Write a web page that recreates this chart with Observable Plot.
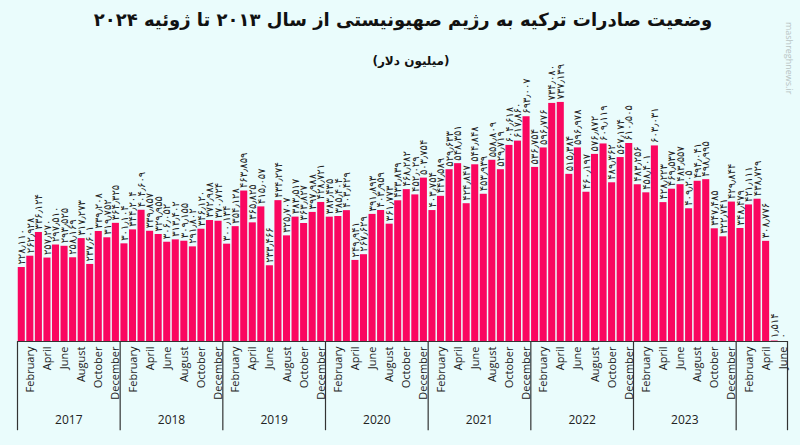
<!DOCTYPE html>
<html><head><meta charset="utf-8">
<script src="https://cdn.jsdelivr.net/npm/d3@7"></script>
<script src="https://cdn.jsdelivr.net/npm/@observablehq/plot@0.6"></script>
<style>
html,body{margin:0;padding:0;}
body{background:#eafcfc;width:800px;height:445px;overflow:hidden;position:relative;font-family:"DejaVu Sans",sans-serif;}
#title{position:absolute;top:9px;left:0;width:806px;text-align:center;font-weight:bold;font-size:18px;direction:rtl;color:#111;}
#sub{position:absolute;top:54px;left:0;width:822px;text-align:center;font-weight:bold;font-size:12px;direction:rtl;color:#111;}
#wm{position:absolute;left:783px;top:22px;writing-mode:vertical-rl;font-size:9px;color:#b9c4c4;font-family:"Open Sans",sans-serif;}
#chart{position:absolute;top:50px;left:0;}
#chart svg{overflow:visible;}
</style></head>
<body>
<div id="title">وضعیت صادرات ترکیه به رژیم صهیونیستی از سال ۲۰۱۳ تا ژوئیه ۲۰۲۴</div>
<div id="sub">(میلیون دلار)</div>
<div id="wm">mashreghnews.ir</div>
<div id="chart"></div>
<script>
const years = [2017, 2018, 2019, 2020, 2021, 2022, 2023, 2024];
const monthNames = ["January","February","March","April","May","June","July","August","September","October","November","December"];
const v2017 = [228.110, 262.928, 336.124, 257.270, 297.510, 293.525, 258.169, 317.273, 237.601, 339.208, 319.752, 364.325];
const v2018 = [301.104, 344.204, 404.609, 339.857, 329.955, 306.052, 313.402, 309.155, 291.802, 346.120, 372.988, 370.724];
const v2019 = [300.134, 354.128, 463.859, 365.825, 415.057, 233.466, 434.274, 325.707, 383.517, 363.827, 397.988, 428.721];
const v2020 = [383.435, 385.404, 403.429, 249.941, 267.629, 391.893, 403.959, 361.773, 433.839, 468.282, 452.029, 503.754];
const v2021 = [403.754, 447.589, 529.633, 548.351, 424.847, 544.848, 453.939, 558.809, 529.719, 604.618, 617.860, 693.007];
const v2022 = [536.754, 596.776, 734.080, 737.139, 515.384, 596.978, 460.197, 576.872, 609.119, 489.362, 567.174, 610.505];
const v2023 = [483.256, 458.401, 603.031, 428.223, 469.537, 483.557, 409.205, 494.041, 498.995, 347.485, 322.741, 429.844];
const v2024 = [348.479, 421.111, 438.729, 308.776, 1.514, 0];
const seriesByYear = [v2017, v2018, v2019, v2020, v2021, v2022, v2023, v2024];

const fa = s => s.replace(/[0-9]/g, c => "۰۱۲۳۴۵۶۷۸۹"[+c]).replace(/\./g, "٫");
const rows = [];
const yearBlocks = [];
seriesByYear.forEach((vals, yi) => {
  const start = rows.length;
  vals.forEach((v, m) => rows.push({i: rows.length, year: years[yi], month: m, value: v,
    label: v === 0 ? fa("0") : fa(v.toFixed(3))}));
  yearBlocks.push({year: years[yi], start, end: rows.length, full: vals.length === 12});
});
const n = rows.length;
const boundaries = yearBlocks.map(b => b.start).concat([n]);
const AXIS_DEPTH = 275; // y-units below zero for the category frame lines

const chart = Plot.plot({
  width: 800, height: 395,
  marginLeft: 17, marginRight: 13, marginTop: 51, marginBottom: 104,
  x: {domain: [0, n], axis: null},
  y: {domain: [0, 740], axis: null},
  style: {background: "transparent", overflow: "visible"},
  marks: [
    Plot.rectY(rows, {x1: "i", x2: d => d.i + 1, y: "value", fill: "#fa0760", insetLeft: 0.75, insetRight: 0.75}),
    Plot.ruleY([0], {stroke: "#333", strokeWidth: 1}),
    Plot.ruleX(boundaries, {x: d => d, y1: 0, y2: -AXIS_DEPTH, stroke: "#333", strokeWidth: 1.2}),
    Plot.text(rows.filter(d => d.month % 2 === 1), {x: d => d.i + 0.5, y: 0, text: d => monthNames[d.month],
      rotate: -90, textAnchor: "end", dy: 5, fontSize: 11, fontFamily: "Open Sans", fill: "#222"}),
    Plot.text(yearBlocks.filter(b => b.full), {x: b => (b.start + b.end) / 2, y: 0, text: b => String(b.year),
      dy: 79, fontSize: 12, fontFamily: "Open Sans", fill: "#222"}),
    Plot.text(rows, {x: d => d.i + 0.5, y: "value", text: "label", rotate: -90, textAnchor: "start",
      dy: -3, fontSize: 10, fontFamily: "DejaVu Sans", fill: "#222"})
  ]
});
document.getElementById("chart").appendChild(chart);
</script>
</body></html>
